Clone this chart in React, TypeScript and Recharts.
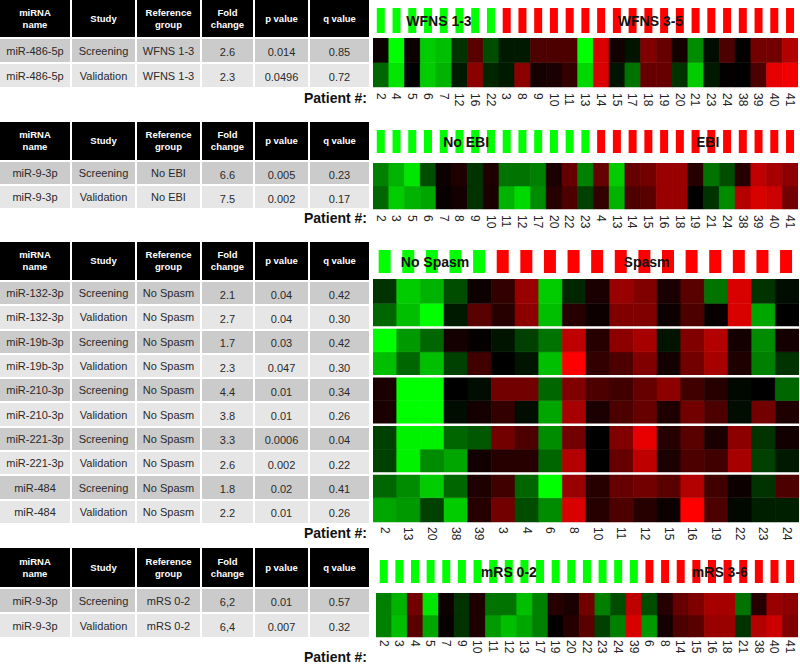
import React from 'react';
import { BarChart, Bar, XAxis, YAxis, Cell, ReferenceArea, ReferenceLine } from 'recharts';

const FONT = 'Arial, "Liberation Sans", Helvetica, sans-serif';

// ---------- Table data ----------
const tableHeaders = ['miRNA\nname', 'Study', 'Reference\ngroup', 'Fold\nchange', 'p value', 'q value'];

const wfnsTable = [
  ['miR-486-5p', 'Screening', 'WFNS 1-3', '2.6', '0.014', '0.85'],
  ['miR-486-5p', 'Validation', 'WFNS 1-3', '2.3', '0.0496', '0.72'],
];
const ebiTable = [
  ['miR-9-3p', 'Screening', 'No EBI', '6.6', '0.005', '0.23'],
  ['miR-9-3p', 'Validation', 'No EBI', '7.5', '0.002', '0.17'],
];
const spasmTable = [
  ['miR-132-3p', 'Screening', 'No Spasm', '2.1', '0.04', '0.42'],
  ['miR-132-3p', 'Validation', 'No Spasm', '2.7', '0.04', '0.30'],
  ['miR-19b-3p', 'Screening', 'No Spasm', '1.7', '0.03', '0.42'],
  ['miR-19b-3p', 'Validation', 'No Spasm', '2.3', '0.047', '0.30'],
  ['miR-210-3p', 'Screening', 'No Spasm', '4.4', '0.01', '0.34'],
  ['miR-210-3p', 'Validation', 'No Spasm', '3.8', '0.01', '0.26'],
  ['miR-221-3p', 'Screening', 'No Spasm', '3.3', '0.0006', '0.04'],
  ['miR-221-3p', 'Validation', 'No Spasm', '2.6', '0.002', '0.22'],
  ['miR-484', 'Screening', 'No Spasm', '1.8', '0.02', '0.41'],
  ['miR-484', 'Validation', 'No Spasm', '2.2', '0.01', '0.26'],
];
const mrsTable = [
  ['miR-9-3p', 'Screening', 'mRS 0-2', '6,2', '0.01', '0.57'],
  ['miR-9-3p', 'Validation', 'mRS 0-2', '6,4', '0.007', '0.32'],
];

// ---------- Heatmap data ----------
const wfnsPatients = ['2', '4', '5', '6', '7', '12', '16', '22', '3', '8', '9', '10', '11', '13', '14', '15', '17', '18', '19', '20', '21', '23', '24', '38', '39', '40', '41'];
const wfnsLowCount = 8;
const wfnsGroupLabels = ['WFNS 1-3', 'WFNS 3-5'];
const wfnsScreening = [0.05, -1, 0.05, -0.8, -0.75, -0.2, 0.35, -0.3, -0.1, -0.1, 0.3, 0.3, 0.3, -1, 0.85, 0.07, -0.08, 0.5, 0.4, 0.08, -0.55, -0.05, 0.3, 0.02, 0.45, 0.45, 0.7];
const wfnsValidation = [-0.4, -0.9, 0, -0.8, -0.7, -0.1, 0.55, -0.15, -0.1, 0.55, 0.08, 0.1, 0.2, -0.85, 0.85, -0.08, -0.45, 0.4, 0.4, -0.2, -0.8, -0.1, 0.02, 0, 0.3, 0.9, 0.95];

const ebiPatients = ['2', '3', '5', '6', '7', '8', '9', '10', '11', '12', '17', '20', '22', '23', '4', '13', '14', '15', '16', '18', '19', '21', '24', '38', '39', '40', '41'];
const ebiLowCount = 14;
const ebiGroupLabels = ['No EBI', 'EBI'];
const ebiScreening = [-0.5, -0.7, -0.9, -0.3, 0.05, 0.12, -0.2, 0.12, -0.45, -0.45, -0.5, 0.1, 0.4, -0.5, 0.4, -0.8, 0.4, 0.45, 0.6, 0.6, 0.15, -0.45, -0.3, 0.15, 0.75, 0.65, 0.55];
const ebiValidation = [-0.4, -0.8, -0.7, -0.65, 0.03, 0.08, -0.2, 0.1, -0.7, -0.85, -0.55, 0.15, 0.3, -0.25, 0.2, -0.7, 0.3, 0.35, 0.6, 0.6, 0, -0.2, -0.55, 0.7, 0.85, 0.8, 0.45];

const spasmPatients = ['2', '13', '20', '38', '39', '3', '4', '6', '8', '10', '11', '12', '15', '16', '19', '22', '23', '24'];
const spasmLowCount = 5;
const spasmGroupLabels = ['No Spasm', 'Spasm'];
const mir132Screening = [-0.2, -0.8, -0.7, -0.3, 0.05, 0.2, 0.6, -0.8, -0.15, 0.1, 0.6, 0.5, 0.1, 0.35, -0.45, 0.85, -0.2, -0.05];
const mir132Validation = [-0.4, -0.75, -1, -0.1, 0.35, 0.15, 0.55, -0.75, 0.15, 0.05, 0.5, 0.5, 0.05, 0.3, 0.03, 0.85, -0.65, 0];
const mir19bScreening = [-1, -0.6, -0.4, 0.08, 0.02, -0.08, -0.25, -0.45, 0.75, 0.15, 0.55, 0.65, -0.08, 0.5, 0.7, 0.08, -0.55, 0.08];
const mir19bValidation = [-0.75, -0.4, -0.75, -0.25, 0.25, 0, -0.08, -0.75, 1, 0.2, 0.3, 0.5, 0.08, 0.45, 0.65, 0.12, -0.5, -0.2];
const mir210Screening = [0.1, -1, -1, 0, -0.05, 0.45, 0.45, -0.4, 0.5, 0.3, 0.25, 0.4, 0.55, 0.25, 0.15, -0.03, 0, -0.4];
const mir210Validation = [0.1, -1, -1, -0.05, 0.08, 0.2, -0.05, -0.65, 0.65, 0.1, 0.3, 0.4, 0.12, 0.45, 0.3, -0.05, 0.45, 0.12];
const mir221Screening = [-0.25, -0.95, -0.95, -0.4, -0.35, 0.45, 0.3, -0.55, 0.45, 0, 0.5, 0.9, 0.15, 0.35, 0.1, 0.55, -0.2, 0.07];
const mir221Validation = [-0.25, -0.95, -0.55, -0.65, 0.07, 0.15, 0.15, -0.4, 0.7, 0, 0.4, 0.75, 0.1, 0.3, 0.25, 0.65, -0.25, -0.1];
const mir484Screening = [-0.4, -0.55, -0.8, -0.4, 0.12, 0.25, -0.4, -1, 0.6, 0.15, 0.4, 0.45, 0.35, 0.7, 0.25, 0.05, -0.2, 0.3];
const mir484Validation = [-0.65, -0.6, -0.25, -0.8, 0.15, 0.45, -0.3, -0.55, 0.85, 0.15, 0.3, 0.15, 0.05, 1, 0.3, -0.03, -0.12, -0.12];

const mrsPatients = ['2', '3', '4', '5', '7', '9', '10', '11', '12', '13', '17', '19', '20', '22', '23', '24', '39', '6', '8', '14', '15', '16', '18', '21', '38', '40', '41'];
const mrsLowCount = 17;
const mrsGroupLabels = ['mRS 0-2', 'mRS 3-6'];
const mrsScreening = [-0.5, -0.7, 0.45, -0.9, 0.05, -0.2, 0.12, -0.45, -0.45, -0.75, -0.5, 0.15, 0.1, 0.45, -0.5, -0.3, 0.75, -0.3, 0.15, 0.4, 0.5, 0.65, 0.65, -0.45, 0.15, 0.6, 0.55];
const mrsValidation = [-0.5, -0.75, 0.35, -0.65, 0.03, -0.2, 0.12, -0.6, -0.75, -0.65, -0.5, 0.02, 0.15, 0.35, -0.25, -0.5, 0.85, -0.6, 0.08, 0.3, 0.35, 0.6, 0.6, -0.2, 0.7, 0.8, 0.5];

// ---------- helpers ----------
function heatColor(v: number): string {
  const c = Math.round(Math.min(1, Math.abs(v)) * 255);
  return v >= 0 ? `rgb(${c},0,0)` : `rgb(0,${c},0)`;
}

const colWidths = [70, 63, 63, 51, 53, 59];

function DataTable({ rows, top, headerH, rowH }: { rows: string[][]; top: number; headerH: number; rowH: number }) {
  return (
    <div
      style={{
        position: 'absolute',
        left: 0,
        top,
        display: 'grid',
        gridTemplateColumns: colWidths.map((w) => `${w}px`).join(' '),
        gridTemplateRows: `${headerH}px repeat(${rows.length}, ${rowH}px)`,
        columnGap: 2,
        rowGap: 2,
        fontFamily: FONT,
      }}
    >
      {tableHeaders.map((h, i) => (
        <div
          key={'h' + i}
          style={{
            background: '#000',
            color: '#fff',
            fontWeight: 'bold',
            fontSize: 9.5,
            lineHeight: '12px',
            whiteSpace: 'pre-line',
            display: 'flex',
            alignItems: 'center',
            justifyContent: 'center',
            textAlign: 'center',
          }}
        >
          {h}
        </div>
      ))}
      {rows.map((r, ri) =>
        r.map((c, ci) => (
          <div
            key={ri + '-' + ci}
            style={{
              background: ri % 2 === 0 ? '#cbcbcb' : '#e6e6e6',
              color: '#2a2a2a',
              fontSize: 11,
              display: 'flex',
              alignItems: 'center',
              justifyContent: 'center',
              paddingTop: ci >= 3 ? 3 : 0,
            }}
          >
            {c}
          </div>
        ))
      )}
    </div>
  );
}

function PatientLabel({ centerY }: { centerY: number }) {
  return (
    <div
      style={{
        position: 'absolute',
        right: 800 - 367,
        top: centerY - 10,
        height: 20,
        lineHeight: '20px',
        fontFamily: FONT,
        fontWeight: 'bold',
        fontSize: 14,
        color: '#111',
      }}
    >
      Patient #:
    </div>
  );
}

const PatientTick = (props: any) => {
  const { x, y, payload } = props;
  return (
    <text
      x={x}
      y={y}
      transform={`rotate(90, ${x}, ${y})`}
      dy="0.36em"
      textAnchor="start"
      fontSize={12}
      fontFamily={FONT}
      fill="#222"
    >
      {payload.value}
    </text>
  );
};

function Heatmap({
  patients,
  rows,
  left,
  top,
  width,
  rowH,
  tickGap,
  separators,
}: {
  patients: string[];
  rows: number[][];
  left: number;
  top: number;
  width: number;
  rowH: number;
  tickGap: number;
  separators?: number[];
}) {
  const n = rows.length;
  const axisH = 32;
  const data = patients.map((p) => {
    const o: Record<string, any> = { patient: p };
    rows.forEach((_, j) => {
      o['r' + j] = 1;
    });
    return o;
  });
  const order = rows.map((_, j) => n - 1 - j); // bottom row first in stack
  return (
    <div style={{ position: 'absolute', left, top }}>
      <BarChart
        width={width}
        height={n * rowH + axisH}
        data={data}
        margin={{ top: 0, right: 0, bottom: 0, left: 0 }}
        barCategoryGap={0}
        barGap={0}
      >
        <XAxis
          dataKey="patient"
          interval={0}
          tickLine={false}
          axisLine={false}
          height={axisH}
          tickSize={0}
          tickMargin={tickGap}
          tick={PatientTick}
        />
        <YAxis hide type="number" domain={[0, n]} />
        {order.map((j) => (
          <Bar key={'r' + j} dataKey={'r' + j} stackId="h" isAnimationActive={false}>
            {rows[j].map((v, i) => (
              <Cell key={i} fill={heatColor(v)} stroke={heatColor(v)} strokeWidth={0.5} />
            ))}
          </Bar>
        ))}
        {(separators || []).map((s) => (
          <ReferenceLine key={'s' + s} y={n - s} stroke="#ffffff" strokeWidth={2.5} />
        ))}
      </BarChart>
    </div>
  );
}

function GroupBars({
  patients,
  lowCount,
  labels,
  left,
  top,
  width,
  height,
  dxs,
}: {
  patients: string[];
  lowCount: number;
  labels: string[];
  left: number;
  top: number;
  width: number;
  height: number;
  dxs: number[];
}) {
  const data = patients.map((p) => ({ patient: p, v: 1 }));
  const mkLabel = (text: string, dx: number) => (props: any) => {
    const vb = props.viewBox || {};
    return (
      <text
        x={vb.x + vb.width / 2 + dx}
        y={vb.y + vb.height / 2}
        dy="0.36em"
        textAnchor="middle"
        fontFamily={FONT}
        fontWeight="bold"
        fontSize={14}
        fill="#111"
      >
        {text}
      </text>
    );
  };
  const m = { top: 0, right: 0, bottom: 0, left: 0 };
  return (
    <>
      <div style={{ position: 'absolute', left, top }}>
        <BarChart width={width} height={height} data={data} margin={m} barCategoryGap="24%">
          <XAxis dataKey="patient" hide />
          <YAxis hide type="number" domain={[0, 1]} />
          <Bar dataKey="v" isAnimationActive={false}>
            {data.map((_, i) => (
              <Cell key={i} fill={i < lowCount ? '#00ff00' : '#ff0000'} />
            ))}
          </Bar>
        </BarChart>
      </div>
      <div style={{ position: 'absolute', left, top }}>
        <BarChart width={width} height={height} data={data} margin={m} barCategoryGap="24%">
          <XAxis dataKey="patient" hide />
          <YAxis hide type="number" domain={[0, 1]} />
          <Bar dataKey="v" fill="none" fillOpacity={0} isAnimationActive={false} />
          <ReferenceArea
            x1={patients[0]}
            x2={patients[lowCount - 1]}
            fillOpacity={0}
            strokeOpacity={0}
            label={mkLabel(labels[0], dxs[0])}
          />
          <ReferenceArea
            x1={patients[lowCount]}
            x2={patients[patients.length - 1]}
            fillOpacity={0}
            strokeOpacity={0}
            label={mkLabel(labels[1], dxs[1])}
          />
        </BarChart>
      </div>
    </>
  );
}

export default function App() {
  const L = 373;
  const W = 425;
  return (
    <div
      style={{
        position: 'absolute',
        left: 0,
        top: 0,
        width: 800,
        height: 667,
        overflow: 'hidden',
        background: '#fff',
        fontFamily: FONT,
      }}
    >
      {/* Panel 1: WFNS */}
      <DataTable rows={wfnsTable} top={0} headerH={37} rowH={23} />
      <PatientLabel centerY={98} />
      <GroupBars patients={wfnsPatients} lowCount={wfnsLowCount} labels={wfnsGroupLabels} left={L} top={8} width={W} height={25} dxs={[3, 2]} />
      <Heatmap patients={wfnsPatients} rows={[wfnsScreening, wfnsValidation]} left={L} top={38} width={W} rowH={24.5} tickGap={6} />

      {/* Panel 2: EBI */}
      <DataTable rows={ebiTable} top={122} headerH={38} rowH={22} />
      <PatientLabel centerY={218} />
      <GroupBars patients={ebiPatients} lowCount={ebiLowCount} labels={ebiGroupLabels} left={L} top={130} width={W} height={23} dxs={[-17, 12]} />
      <Heatmap patients={ebiPatients} rows={[ebiScreening, ebiValidation]} left={L} top={163} width={W} rowH={23} tickGap={6} />

      {/* Panel 3: Spasm */}
      <DataTable rows={spasmTable} top={242} headerH={38} rowH={22.3} />
      <PatientLabel centerY={533} />
      <GroupBars patients={spasmPatients} lowCount={spasmLowCount} labels={spasmGroupLabels} left={L} top={250} width={W} height={23} dxs={[3, 2]} />
      <Heatmap
        patients={spasmPatients}
        rows={[
          mir132Screening,
          mir132Validation,
          mir19bScreening,
          mir19bValidation,
          mir210Screening,
          mir210Validation,
          mir221Screening,
          mir221Validation,
          mir484Screening,
          mir484Validation,
        ]}
        left={L}
        top={279}
        width={W + 1}
        rowH={24.3}
        tickGap={5}
        separators={[2, 4, 6, 8]}
      />

      {/* Panel 4: mRS */}
      <DataTable rows={mrsTable} top={548} headerH={39} rowH={23} />
      <PatientLabel centerY={657} />
      <GroupBars patients={mrsPatients} lowCount={mrsLowCount} labels={mrsGroupLabels} left={376} top={560} width={422} height={23} dxs={[0, 0]} />
      <Heatmap patients={mrsPatients} rows={[mrsScreening, mrsValidation]} left={376} top={593} width={422} rowH={22} tickGap={3} />
    </div>
  );
}
